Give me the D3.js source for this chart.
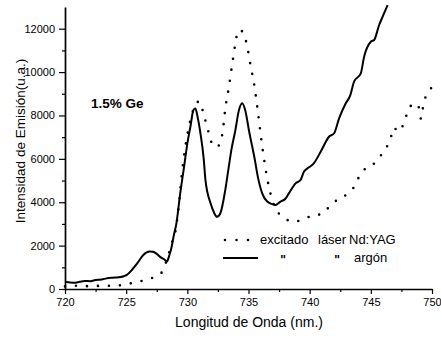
<!DOCTYPE html>
<html>
<head>
<meta charset="utf-8">
<script src="https://cdn.jsdelivr.net/npm/d3@7/dist/d3.min.js"></script>
<style>
  html, body { margin: 0; padding: 0; background: #fff; }
  svg { display: block; font-family: "Liberation Sans", Arial, sans-serif; }
</style>
</head>
<body>
<svg id="chart" width="441" height="338"></svg>
<script>
// Emission spectrum of 1.5% Ge sample: Nd:YAG laser excitation vs argon laser excitation
const wavelengthNd = [720.0, 720.7, 721.6, 722.5, 723.4, 724.3, 725.2, 726.1, 727.0, 727.9, 728.3, 728.8,
  729.0, 729.3, 729.55, 729.8, 730.1, 730.4, 730.7, 731.0, 731.3, 731.55, 731.8, 732.1, 732.4, 732.7,
  732.9, 733.1, 733.4, 733.66, 733.93, 734.1, 734.3, 734.53, 734.84, 735.16, 735.5, 735.74, 735.96,
  736.2, 736.48, 736.86, 737.2, 737.8, 738.7, 739.5, 740.3, 741.0, 741.6, 742.3, 743.0, 743.6, 744.0,
  744.5, 745.0, 745.6, 746.2, 746.6, 746.9, 747.2, 747.7, 748.0, 748.55, 748.9, 749.1, 749.3, 749.8, 750.0];
const intensityNd = [120, 150, 130, 140, 150, 160, 240, 350, 480, 760, 1300, 2250,
  2600, 3850, 5300, 6400, 7400, 8100, 8550, 8650, 8130, 7620, 7100, 6600, 6550, 6750,
  7300, 8300, 9330, 10330, 11330, 11820, 11950, 11830, 11330, 10330, 9300, 8290, 7280,
  6260, 5260, 4260, 3720, 3330, 3100, 3220, 3400, 3450, 3790, 4130, 4350, 4680, 5130,
  5520, 5640, 6020, 6450, 6920, 7440, 7250, 7640, 8150, 8560, 8400, 7850, 8500, 9170, 9300];

const wavelengthAr = [720.0, 720.7, 721.2, 721.6, 722.1, 722.5, 723.0, 723.4, 723.9, 724.4, 724.8, 725.05,
  725.5, 725.9, 726.4, 726.9, 727.2, 727.5, 727.8, 728.1, 728.34, 728.5, 728.7, 728.9, 729.1, 729.4,
  729.75, 730.0, 730.25, 730.5, 730.66, 730.85, 731.07, 731.34, 731.48, 731.9, 732.2, 732.43, 732.7,
  733.1, 733.39, 733.6, 733.93, 734.2, 734.48, 734.75, 735.03, 735.52, 735.76, 736.12, 736.53, 737.0,
  737.2, 737.62, 738.0, 738.3, 738.85, 739.26, 739.53, 739.8, 740.35, 740.9, 741.58, 742.0, 742.4,
  742.95, 743.3, 743.63, 744.18, 744.45, 745.0, 745.27, 745.68, 746.0, 746.37];
const intensityAr = [330, 290, 330, 370, 360, 420, 440, 490, 520, 540, 590, 650,
  900, 1180, 1570, 1730, 1720, 1620, 1470, 1370, 1270, 1500, 1900, 2490, 3000, 4330,
  5700, 6700, 7480, 8250, 8320, 7900, 7180, 6000, 5030, 3950, 3500, 3330, 3490,
  4560, 5640, 6410, 7330, 8200, 8560, 8200, 7330, 5950, 5180, 4410, 4030, 3900,
  3870, 4030, 4150, 4410, 4870, 5030, 5410, 5550, 5800, 6330, 7020, 7180, 7850,
  8560, 8900, 9560, 9940, 10710, 11400, 11480, 12170, 12600, 13090];

const xMajorTicks = [720, 725, 730, 735, 740, 745, 750];
const xMinorTicks = [722.5, 727.5, 732.5, 737.5, 742.5, 747.5];
const yMajorTicks = [0, 2000, 4000, 6000, 8000, 10000, 12000];
const yMinorTicks = [1000, 3000, 5000, 7000, 9000, 11000];

const svg = d3.select("#chart");
const x = d3.scaleLinear().domain([720, 750]).range([65, 432]);
const y = d3.scaleLinear().domain([0, 13000]).range([289, 7]);

// axes
function styleAxis(g) {
  g.selectAll("path.domain").attr("stroke", "#000").attr("stroke-width", 1.7);
  g.selectAll(".tick line").attr("stroke", "#000").attr("stroke-width", 1.2);
  g.selectAll(".tick text").attr("fill", "#000").style("font-size", "11px")
    .style("font-family", "'Liberation Sans', Arial, sans-serif");
}

svg.append("g").attr("transform", "translate(0,289)")
  .call(d3.axisBottom(x).tickValues(xMinorTicks).tickSize(3).tickFormat("").tickSizeOuter(0))
  .call(g => g.select("path.domain").remove())
  .call(styleAxis);
svg.append("g").attr("transform", "translate(0,289)")
  .call(d3.axisBottom(x).tickValues(xMajorTicks).tickSize(5).tickPadding(4).tickSizeOuter(0).tickFormat(d3.format("d")))
  .call(styleAxis);

svg.append("g").attr("transform", "translate(65,0)")
  .call(d3.axisLeft(y).tickValues(yMinorTicks).tickSize(3).tickFormat("").tickSizeOuter(0))
  .call(g => g.select("path.domain").remove())
  .call(styleAxis);
svg.append("g").attr("transform", "translate(65,0)")
  .call(d3.axisLeft(y).tickValues(yMajorTicks).tickSize(6).tickPadding(4).tickSizeOuter(0).tickFormat(d3.format("d")))
  .call(styleAxis);

// series
const line = d3.line().x(d => x(d[0])).y(d => y(d[1])).curve(d3.curveMonotoneX);
const ndData = d3.zip(wavelengthNd, intensityNd);
const arData = d3.zip(wavelengthAr, intensityAr);

svg.append("path").datum(arData)
  .attr("d", line).attr("fill", "none").attr("stroke", "#000")
  .attr("stroke-width", 2).attr("stroke-linejoin", "round");

svg.append("path").datum(ndData)
  .attr("d", line).attr("fill", "none").attr("stroke", "#000")
  .attr("stroke-width", 2.6).attr("stroke-linecap", "round")
  .attr("stroke-dasharray", "0 11");

// labels
svg.append("text").attr("x", 91).attr("y", 108)
  .style("font-size", "13.5px").style("font-weight", "bold").text("1.5% Ge");

svg.append("text").attr("x", 249).attr("y", 327).attr("text-anchor", "middle")
  .style("font-size", "14px").text("Longitud de Onda (nm.)");

svg.append("text").attr("transform", "translate(25,141) rotate(-90)").attr("text-anchor", "middle")
  .style("font-size", "13.5px").text("Intensidad de Emisión(u.a.)");

// legend
const legend = svg.append("g");
legend.append("line").attr("x1", 225).attr("x2", 249).attr("y1", 240).attr("y2", 240)
  .attr("stroke", "#000").attr("stroke-width", 2.6).attr("stroke-linecap", "round")
  .attr("stroke-dasharray", "0 11.5");
legend.append("text").attr("x", 260).attr("y", 244).style("font-size", "13px").text("excitado");
legend.append("text").attr("x", 318).attr("y", 244).style("font-size", "13px").text("láser");
legend.append("text").attr("x", 349).attr("y", 244).style("font-size", "13px").text("Nd:YAG");

legend.append("line").attr("x1", 223).attr("x2", 258).attr("y1", 258).attr("y2", 258)
  .attr("stroke", "#000").attr("stroke-width", 2);
legend.append("text").attr("x", 283).attr("y", 264).attr("text-anchor", "middle")
  .style("font-size", "12px").style("font-weight", "bold").text("\"");
legend.append("text").attr("x", 337).attr("y", 264).attr("text-anchor", "middle")
  .style("font-size", "12px").style("font-weight", "bold").text("\"");
legend.append("text").attr("x", 354).attr("y", 262).style("font-size", "13px").text("argón");
</script>
</body>
</html>
